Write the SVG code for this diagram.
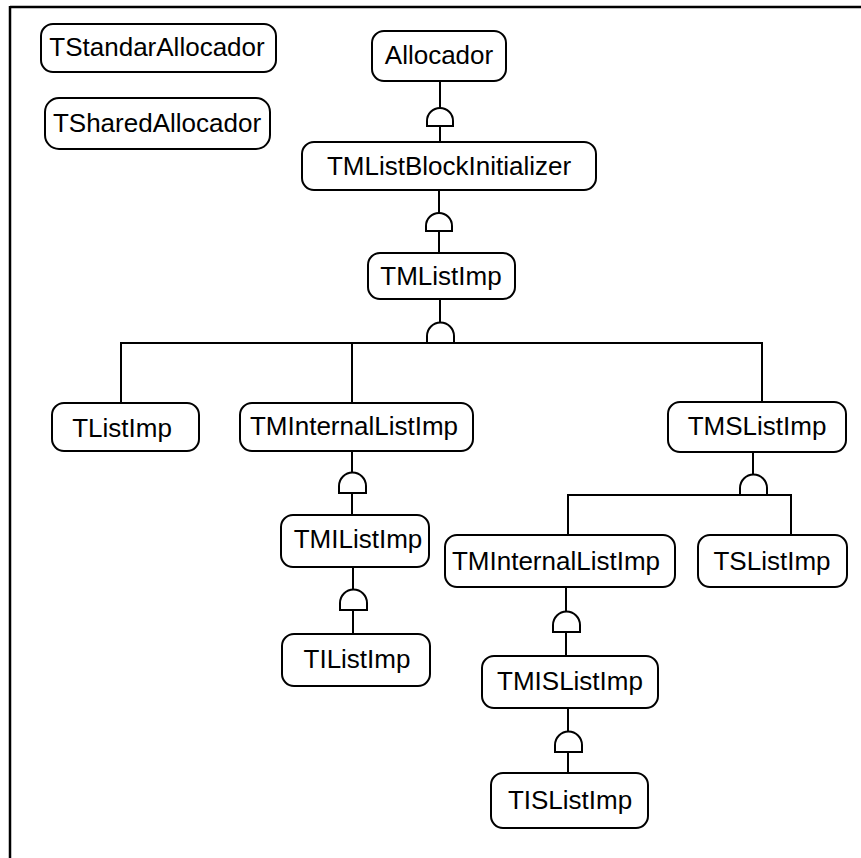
<svg xmlns="http://www.w3.org/2000/svg" width="861" height="858" viewBox="0 0 861 858">
<defs>
<style>
.n rect{fill:#fff;stroke:#000;stroke-width:2}
.n text{font-family:"Liberation Sans",Arial,sans-serif;font-size:26px;fill:#000;text-anchor:middle}
.c path,.c line,.c polyline{fill:none;stroke:#000;stroke-width:2}
.c .d{fill:#fff}
</style>
</defs>
<rect width="861" height="858" fill="#fff"/>
<g id="frame"><line x1="10" y1="7" x2="861" y2="7" stroke="#000" stroke-width="2.5"/><line x1="10" y1="6" x2="10" y2="858" stroke="#000" stroke-width="2.5"/></g>
<g class="c" id="connectors">
<line x1="440" y1="81" x2="440" y2="142"/>
<path class="d" d="M427,126 L427,121 A13,13 0 0 1 453,121 L453,126 Z"/>
<line x1="439" y1="190" x2="439" y2="253"/>
<path class="d" d="M426,231 L426,226 A13,13 0 0 1 452,226 L452,231 Z"/>
<line x1="440" y1="299" x2="440" y2="343"/>
<polyline points="121,403 121,343 762,343 762,402"/>
<line x1="352" y1="343" x2="352" y2="403"/>
<path class="d" d="M427,343 L427,336 A13.5,13.5 0 0 1 454,336 L454,343 Z"/>
<line x1="753" y1="452" x2="753" y2="495"/>
<polyline points="568,535 568,495 791,495 791,535"/>
<path class="d" d="M740,495 L740,488 A13.5,13.5 0 0 1 767,488 L767,495 Z"/>
<line x1="352" y1="451" x2="352" y2="515"/>
<path class="d" d="M339,493 L339,486 A13.5,13.5 0 0 1 366,486 L366,493 Z"/>
<line x1="353" y1="567" x2="353" y2="634"/>
<path class="d" d="M340,610 L340,603 A13.5,13.5 0 0 1 367,603 L367,610 Z"/>
<line x1="566" y1="587" x2="566" y2="656"/>
<path class="d" d="M553,632 L553,625 A13.5,13.5 0 0 1 580,625 L580,632 Z"/>
<line x1="568" y1="708" x2="568" y2="773"/>
<path class="d" d="M555,752 L555,745 A13.5,13.5 0 0 1 582,745 L582,752 Z"/>
</g>
<g class="n" id="TStandarAllocador"><rect x="41" y="24" width="235" height="48" rx="12"/><text x="157" y="56">TStandarAllocador</text></g>
<g class="n" id="TSharedAllocador"><rect x="45" y="98" width="225" height="51" rx="14"/><text x="157" y="132">TSharedAllocador</text></g>
<g class="n" id="Allocador"><rect x="372" y="31" width="134" height="50" rx="12"/><text x="439" y="64">Allocador</text></g>
<g class="n" id="TMListBlockInitializer"><rect x="302" y="142" width="294" height="48" rx="12"/><text x="449" y="175">TMListBlockInitializer</text></g>
<g class="n" id="TMListImp"><rect x="368" y="253" width="147" height="46" rx="12"/><text x="441" y="285">TMListImp</text></g>
<g class="n" id="TListImp"><rect x="52" y="403" width="147" height="48" rx="12"/><text x="122" y="437">TListImp</text></g>
<g class="n" id="TMInternalListImp"><rect x="240" y="403" width="233" height="48" rx="12"/><text x="354" y="435">TMInternalListImp</text></g>
<g class="n" id="TMSListImp"><rect x="668" y="402" width="178" height="50" rx="12"/><text x="757" y="435">TMSListImp</text></g>
<g class="n" id="TMInternalListImp2"><rect x="445" y="535" width="230" height="52" rx="12"/><text x="556" y="570">TMInternalListImp</text></g>
<g class="n" id="TSListImp"><rect x="698" y="535" width="149" height="52" rx="12"/><text x="772" y="570">TSListImp</text></g>
<g class="n" id="TMIListImp"><rect x="281" y="515" width="148" height="52" rx="12"/><text x="358" y="548">TMIListImp</text></g>
<g class="n" id="TIListImp"><rect x="282" y="634" width="148" height="52" rx="12"/><text x="357" y="668">TIListImp</text></g>
<g class="n" id="TMISListImp"><rect x="482" y="656" width="176" height="52" rx="12"/><text x="570" y="690">TMISListImp</text></g>
<g class="n" id="TISListImp"><rect x="491" y="773" width="157" height="55" rx="12"/><text x="570" y="809">TISListImp</text></g>
</svg>
